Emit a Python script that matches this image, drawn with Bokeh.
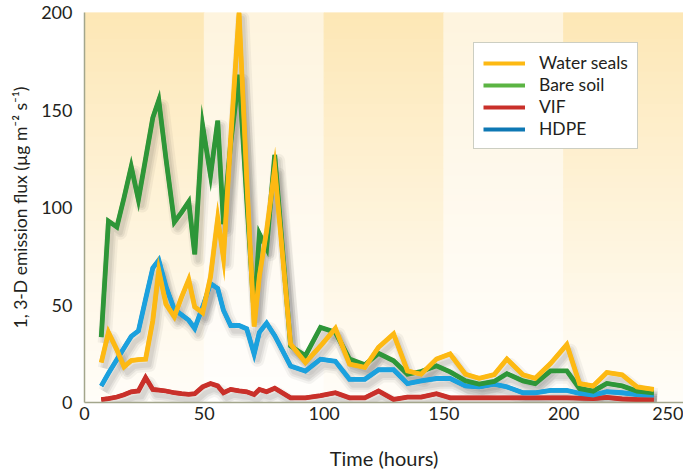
from bokeh.plotting import figure
from bokeh.models import ColumnDataSource, Legend, LegendItem, FixedTicker
from bokeh.embed import file_html
from bokeh.resources import INLINE

# ---------------- data ----------------
time_h = [7, 10, 13.5, 16.5, 19.5, 22.5, 25.5, 28.5, 31, 34, 37.5, 40.5, 43.5, 46,
          49.3, 52.6, 55.6, 58, 61, 64.5, 67.7, 70.8, 73, 76, 79.4, 86, 92.2, 98.5,
          104.7, 110.6, 117, 122.7, 129, 134.8, 140.5, 146.9, 152.6, 159, 164.7, 171,
          176.3, 183, 188.1, 194.5, 201.3, 206.6, 212.3, 218, 224.4, 230.6, 237.6]

water_seals = [20.5, 36, 27, 18.3, 21.5, 22, 22.2, 42, 67.7, 50.4, 44, 54, 63, 49,
               46, 64.5, 94.4, 74, 135, 200, 115, 39, 65, 88, 120, 30, 20.5, 29,
               38, 19.7, 18, 28.3, 35.2, 16.2, 14.5, 22.3, 24.9, 14.5, 12.4, 14.3,
               22.3, 14.2, 12.4, 20, 29.7, 9.7, 8.5, 15.4, 14.2, 8, 6.7]

bare_soil = [33.5, 93, 90, 105, 121, 104, 125, 146, 155, 125, 92.5, 97.5, 103, 76,
             142, 116.5, 144.5, 91.5, 133, 168, 104, 45, 86.5, 79, 127, 29, 24, 38.5,
             36, 22.3, 19.3, 25.2, 21.4, 14.5, 15.9, 18.8, 15.7, 11.1, 9.4, 10.8,
             14.8, 11.1, 9.7, 16.2, 16.2, 7.2, 5.8, 9.8, 8.5, 5.8, 5]

vif = [1.5, 2, 2.8, 4, 5.5, 5.9, 12.8, 6.7, 6.4, 5.9, 5, 4.5, 4.2, 4.5,
       8, 9.7, 8.5, 5, 6.7, 6, 5.5, 4.1, 6.7, 5.5, 7.3, 2.4, 2.4, 3.5,
       5, 2.4, 2.4, 5.9, 1.6, 2.8, 2.8, 4.5, 2.4, 2.4, 2.4, 2.4,
       2.4, 2.4, 2.4, 2.4, 2.4, 2.2, 2, 2.6, 1.8, 1.5, 1.4]

hdpe = [8.5, 15, 22, 28, 33.9, 36.7, 53, 69, 73, 59.4, 47.7, 45, 42.2, 38,
        49, 61, 58.5, 47.3, 39.5, 39.5, 37.8, 24.9, 36, 40.7, 34.3, 18.7, 16.1, 22.2,
        21.1, 11.9, 11.9, 16.8, 16.8, 9.7, 11.1, 12.3, 12.3, 8.5, 8, 9.4,
        8, 5, 5, 6.2, 6.2, 4.7, 3.8, 5.5, 5, 4.1, 3.8]

series_names = ["Water seals", "Bare soil", "VIF", "HDPE"]
x_ticks = [0, 50, 100, 150, 200, 250]
y_ticks = [0, 50, 100, 150, 200]
band_edges = [0, 50, 100, 150, 200, 250]

# ---------------- styles ----------------
FONT = "Lato"
TXT = "#231F20"
GRID = "#A3A68C"
line_colors = {"Water seals": "#FDB913", "Bare soil": "#2E9638",
               "VIF": "#C9302A", "HDPE": "#1BA1DE"}
legend_colors = {"Water seals": "#FDB913", "Bare soil": "#5BB443",
                 "VIF": "#C9302A", "HDPE": "#0E78B4"}

p = figure(width=683, height=472, x_range=(0, 250), y_range=(0, 200),
           output_backend="svg", toolbar_location=None,
           min_border_left=84, min_border_right=0, min_border_top=12, min_border_bottom=40)
p.outline_line_color = None
p.background_fill_color = "white"
p.border_fill_color = "white"

# ---------------- background bands with vertical gradient ----------------
def lerp(c0, c1, t):
    return "#%02x%02x%02x" % tuple(int(round(a + (b - a) * t)) for a, b in zip(c0, c1))

N = 60
dark_top, dark_bot = (253, 231, 181), (255, 253, 248)
light_top, light_bot = (254, 244, 222), (255, 254, 252)
bl, br, bb, bt, bc = [], [], [], [], []
for i in range(len(band_edges) - 1):
    top_c, bot_c = (dark_top, dark_bot) if i % 2 == 0 else (light_top, light_bot)
    for j in range(N):
        t = (j + 0.5) / N
        bl.append(band_edges[i]); br.append(band_edges[i + 1])
        bb.append(200 * j / N); bt.append(200 * (j + 1) / N)
        bc.append(lerp(bot_c, top_c, t ** 1.1))
bg = ColumnDataSource(dict(left=bl, right=br, bottom=bb, top=bt, color=bc))
p.quad(left="left", right="right", bottom="bottom", top="top", source=bg,
       fill_color="color", line_color="color", line_width=1)

# ---------------- lines ----------------
data = {"Water seals": water_seals, "Bare soil": bare_soil, "VIF": vif, "HDPE": hdpe}
order = ["VIF", "HDPE", "Bare soil", "Water seals"]

dx, dy = 1.4, -3.0
for name in order:
    sx = [t + dx for t in time_h]
    sy = [v + dy for v in data[name]]
    p.line(sx, sy, line_color="black", line_alpha=0.045, line_width=14, line_join="round")
    p.line(sx, sy, line_color="black", line_alpha=0.06, line_width=9, line_join="round")
    p.line(sx, sy, line_color="black", line_alpha=0.06, line_width=5, line_join="round")

legend_renderers = {}
for name in order:
    # legend-coloured stroke (used for the legend swatch), covered by the real line
    legend_renderers[name] = p.line(time_h, data[name], line_color=legend_colors[name],
                                    line_width=4.0, line_join="miter")
    p.line(time_h, data[name], line_color=line_colors[name], line_width=4.8, line_join="miter")

# ---------------- legend ----------------
items = [LegendItem(label=name, renderers=[legend_renderers[name]]) for name in series_names]
legend = Legend(items=items, location=(389, 253))
legend.background_fill_color = "white"
legend.background_fill_alpha = 1
legend.border_line_color = "#9A9E86"
legend.border_line_width = 1.5
legend.label_text_font = FONT
legend.label_text_font_size = "17.5px"
legend.label_text_color = TXT
legend.glyph_width = 42
legend.glyph_height = 20
legend.label_height = 20
legend.label_standoff = 14
legend.spacing = 1
legend.padding = 9
legend.margin = 0
p.add_layout(legend, "center")

# ---------------- axes & grid ----------------
p.xaxis.ticker = FixedTicker(ticks=x_ticks)
p.yaxis.ticker = FixedTicker(ticks=y_ticks)
p.xgrid.grid_line_color = None
p.ygrid.grid_line_color = GRID
p.ygrid.grid_line_width = 1.5
p.ygrid.ticker = FixedTicker(ticks=y_ticks[1:])

for ax in (p.xaxis, p.yaxis):
    ax.axis_line_color = GRID
    ax.axis_line_width = 1.5
    ax.major_tick_line_color = None
    ax.minor_tick_line_color = None
    ax.major_tick_out = 0
    ax.major_tick_in = 0
    ax.minor_tick_out = 0
    ax.minor_tick_in = 0
    ax.major_label_text_font = FONT
    ax.major_label_text_font_size = "18px"
    ax.major_label_text_color = TXT
    ax.axis_label_text_font = FONT
    ax.axis_label_text_font_style = "normal"
    ax.axis_label_text_color = TXT

p.xaxis.axis_label = "Time (hours)"
p.yaxis.axis_label = "1, 3-D emission flux (\u00b5g m\u207b\u00b2 s\u207b\u00b9)"
p.xaxis.axis_label_text_font_size = "20px"
p.yaxis.axis_label_text_font_size = "17.5px"
p.xaxis.major_label_standoff = 4
p.yaxis.major_label_standoff = 12
p.xaxis.axis_label_standoff = 23
p.yaxis.axis_label_standoff = 7

open("out.html", "w").write(file_html(p, INLINE))
